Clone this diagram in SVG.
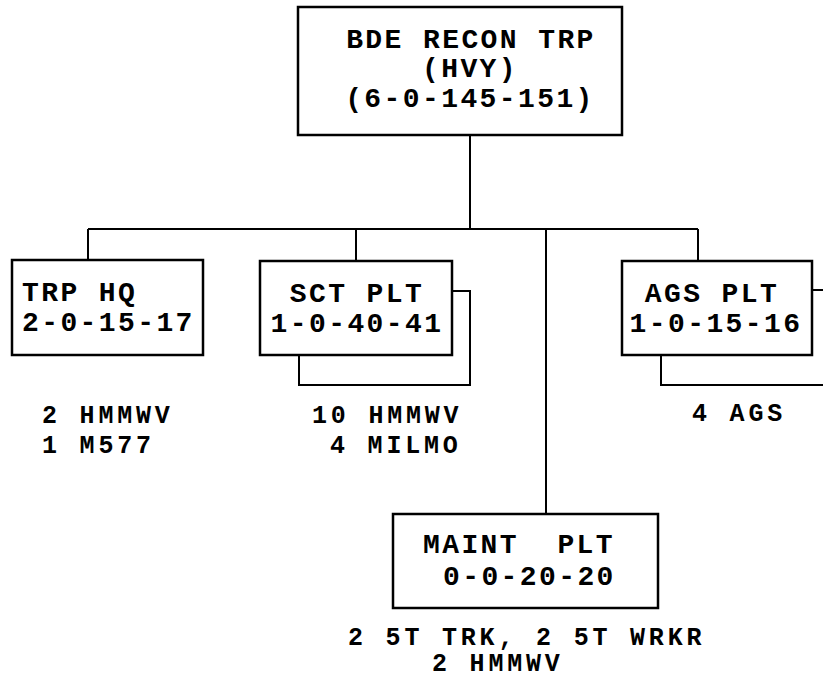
<svg xmlns="http://www.w3.org/2000/svg" width="823" height="684" viewBox="0 0 823 684">
<style>
.box{fill:#fff;stroke:#000;stroke-width:2.5}
.ln{fill:none;stroke:#000;stroke-width:2}
text{font-family:"Liberation Mono","Courier New",monospace;font-weight:bold;font-size:28px;letter-spacing:2.4px;fill:#000;white-space:pre}
.c{text-anchor:middle}
.s{font-size:25px;letter-spacing:3.8px}
</style>
<rect width="823" height="684" fill="#fff"/>
<g id="connectors">
<path class="ln" d="M470,135 V229 M88,229 H698 M88,229 V260 M356,229 V261 M698,229 V261 M546,229 V514"/>
<path class="ln" d="M452,291 H470 V385 H299 V355"/>
<path class="ln" d="M812,290 H823 M661,355 V385 H823"/>
</g>
<g id="bde">
<rect class="box" x="298" y="7" width="324" height="128"/>
<text class="c" x="471" y="48">BDE RECON TRP</text>
<text class="c" x="470" y="77">(HVY)</text>
<text class="c" x="470" y="107">(6-0-145-151)</text>
</g>
<g id="trphq">
<rect class="box" x="12" y="260" width="191" height="95"/>
<text x="22" y="301">TRP HQ</text>
<text x="22" y="331">2-0-15-17</text>
<text class="s" x="42" y="423">2 HMMWV</text>
<text class="s" x="42" y="453">1 M577</text>
</g>
<g id="sctplt">
<rect class="box" x="260" y="261" width="192" height="94"/>
<text class="c" x="357" y="302">SCT PLT</text>
<text class="c" x="357" y="332">1-0-40-41</text>
<text class="s" x="312" y="423">10 HMMWV</text>
<text class="s" x="330" y="453">4 MILMO</text>
</g>
<g id="agsplt">
<rect class="box" x="622" y="261" width="190" height="94"/>
<text class="c" x="712" y="302">AGS PLT</text>
<text class="c" x="716" y="332">1-0-15-16</text>
<text class="s" x="692" y="421">4 AGS</text>
</g>
<g id="maintplt">
<rect class="box" x="393" y="514" width="265" height="94"/>
<text x="423" y="553" xml:space="preserve">MAINT  PLT</text>
<text x="443" y="585">0-0-20-20</text>
<text class="s" x="348" y="645">2 5T TRK, 2 5T WRKR</text>
<text class="s" x="432" y="671">2 HMMWV</text>
</g>
</svg>
